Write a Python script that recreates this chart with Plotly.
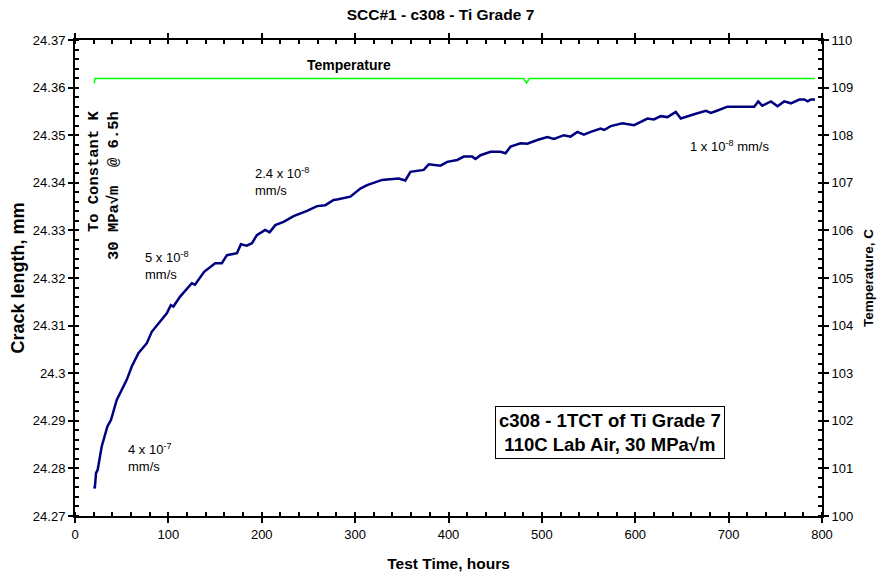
import plotly.graph_objects as go

# Crack length vs. test time
time_h = [20.7, 21.2, 22.5, 24.3, 28.6, 34.7, 38.6, 42.9, 44.7, 55.4, 60.8, 67.9, 76.9,
          82.2, 89.4, 98.3, 102.6, 105.4, 112.6, 125.1, 128.5, 138.3, 150.1, 157.3, 162.7,
          173.4, 177.7, 183.9, 189.5, 194.8, 203.7, 208.4, 214.5, 223.4, 234.1, 248.5,
          259.2, 268.1, 277.0, 280.6, 294.9, 305.6, 312.8, 328.9, 334.2, 346.7, 353.8,
          359.2, 373.5, 378.9, 391.4, 398.6, 409.3, 416.4, 425.4, 428.9, 434.3, 445.0,
          455.8, 461.0, 466.5, 477.2, 484.4, 495.1, 505.8, 513.0, 523.6, 530.7, 538.0,
          545.0, 552.3, 563.0, 566.7, 573.7, 586.2, 598.7, 605.9, 613.1, 620.0, 627.3,
          634.5, 643.4, 648.8, 655.9, 663.0, 675.6, 681.0, 688.1, 698.8, 706.0, 727.4,
          731.7, 736.0, 745.3, 752.4, 759.5, 766.7, 775.7, 781.0, 784.7, 788.2, 792.5]
crack_mm = [24.2763, 24.2758, 24.2790, 24.2797, 24.2846, 24.2888, 24.2902, 24.2933,
            24.2944, 24.2986, 24.3014, 24.3042, 24.3063, 24.3087, 24.3105, 24.3126,
            24.3143, 24.3140, 24.3161, 24.3189, 24.3186, 24.3213, 24.3231, 24.3231,
            24.3248, 24.3252, 24.3271, 24.3268, 24.3273, 24.3290, 24.3301, 24.3296,
            24.3311, 24.3318, 24.3330, 24.3341, 24.3351, 24.3353, 24.3364, 24.3365,
            24.3371, 24.3388, 24.3395, 24.3406, 24.3407, 24.3409, 24.3405, 24.3423,
            24.3427, 24.3439, 24.3436, 24.3444, 24.3448, 24.3455, 24.3455, 24.3450,
            24.3458, 24.3465, 24.3465, 24.3462, 24.3476, 24.3483, 24.3482, 24.3490,
            24.3496, 24.3492, 24.3500, 24.3497, 24.3507, 24.3501, 24.3507, 24.3514,
            24.3511, 24.3519, 24.3525, 24.3521, 24.3528, 24.3535, 24.3533, 24.3540,
            24.3538, 24.3549, 24.3535, 24.3540, 24.3544, 24.3551, 24.3547, 24.3552,
            24.3560, 24.3560, 24.3560, 24.3571, 24.3562, 24.3571, 24.3561, 24.3571,
            24.3567, 24.3575, 24.3575, 24.3571, 24.3575, 24.3575]

# Temperature trace (right axis)
temp_time_h = [20.7, 21.0, 21.4, 480.5, 483.6, 486.7, 792.5]
temp_c = [109.09, 109.19, 109.19, 109.19, 109.10, 109.19, 109.19]

crack_ticks = [24.27, 24.28, 24.29, 24.30, 24.31, 24.32, 24.33, 24.34, 24.35, 24.36, 24.37]
crack_tick_text = ["24.27", "24.28", "24.29", "24.3", "24.31", "24.32",
                   "24.33", "24.34", "24.35", "24.36", "24.37"]

FONT = "Arial, Liberation Sans, sans-serif"
W, H = 881, 574
ML, MR, MT, MB = 75, 59, 40, 58
PW, PH = W - ML - MR, H - MT - MB

fig = go.Figure()
fig.add_trace(go.Scatter(x=time_h, y=crack_mm, mode="lines",
                         line=dict(color="#000080", width=2.5), yaxis="y",
                         showlegend=False))
fig.add_trace(go.Scatter(x=temp_time_h, y=temp_c, mode="lines",
                         line=dict(color="#00FF00", width=1.5), yaxis="y2",
                         showlegend=False))

axis_common = dict(
    showgrid=False, zeroline=False, showline=True, linecolor="black", linewidth=2,
    ticks="outside", ticklen=5, tickwidth=1.5, tickcolor="black", automargin=False,
    tickfont=dict(family=FONT, size=13, color="black"),
)

fig.update_layout(
    width=W, height=H,
    margin=dict(l=ML, r=MR, t=MT, b=MB),
    paper_bgcolor="white", plot_bgcolor="white",
    title=dict(text="<b>SCC#1 - c308 - Ti Grade 7</b>", x=0.5, xanchor="center",
               y=0.975, yanchor="middle",
               font=dict(family=FONT, size=15.5, color="black")),
    xaxis=dict(range=[0, 800], dtick=100, tick0=0, mirror="ticks",
               title=dict(text="<b>Test Time, hours</b>", standoff=18,
                          font=dict(family=FONT, size=15.5, color="black")),
               minor=dict(dtick=20, ticks="inside", ticklen=4, tickcolor="black"),
               **axis_common),
    yaxis=dict(range=[24.27, 24.37], tickvals=crack_ticks, ticktext=crack_tick_text,
               title=dict(text="<b>Crack length, mm</b>", standoff=4,
                          font=dict(family=FONT, size=18, color="black")),
               minor=dict(dtick=0.002, ticks="inside", ticklen=4, tickcolor="black"),
               **axis_common),
    yaxis2=dict(range=[100, 110], dtick=1, tick0=100, overlaying="y", side="right",
                title=dict(text="<b>Temperature, C</b>", standoff=11,
                           font=dict(family=FONT, size=13.5, color="black")),
                minor=dict(dtick=0.2, ticks="inside", ticklen=4, tickcolor="black"),
                **axis_common),
)


def px_x(x):
    return (x - ML) / PW


def px_y(y):
    return 1 - (y - MT) / PH


notes = [
    dict(x=349, y=65, text="<b>Temperature</b>", size=14, xanchor="center"),
    dict(x=253, y=181, text="2.4 x 10<sup>-8</sup><br>mm/s", size=13, xanchor="left"),
    dict(x=143, y=265, text="5 x 10<sup>-8</sup><br>mm/s", size=13, xanchor="left"),
    dict(x=126, y=457, text="4 x 10<sup>-7</sup><br>mm/s", size=13, xanchor="left"),
    dict(x=688, y=146, text="1 x 10<sup>-8</sup> mm/s", size=13, xanchor="left"),
]
for n in notes:
    fig.add_annotation(xref="paper", yref="paper", x=px_x(n["x"]), y=px_y(n["y"]),
                       text=n["text"], showarrow=False, align="left",
                       xanchor=n["xanchor"], yanchor="middle",
                       font=dict(family=FONT, size=n["size"], color="black"))

# Loading note, rotated
fig.add_annotation(xref="paper", yref="paper", x=px_x(104), y=px_y(185),
                   text="<b>To Constant K<br>30 MPa√m\u00a0 @ 6.5h</b>",
                   showarrow=False, textangle=-90, align="right",
                   xanchor="center", yanchor="middle",
                   font=dict(family="Liberation Mono, Courier New, monospace",
                             size=15.5, color="black"))

# Specimen box
fig.add_annotation(xref="paper", yref="paper", x=px_x(610), y=px_y(432),
                   text="<b>c308 - 1TCT of Ti Grade 7<br>110C Lab Air, 30 MPa√m</b>",
                   showarrow=False, align="center", xanchor="center", yanchor="middle",
                   bordercolor="black", borderwidth=1, borderpad=3, bgcolor="white",
                   font=dict(family=FONT, size=18.5, color="black"))

fig.write_html("out.html")
